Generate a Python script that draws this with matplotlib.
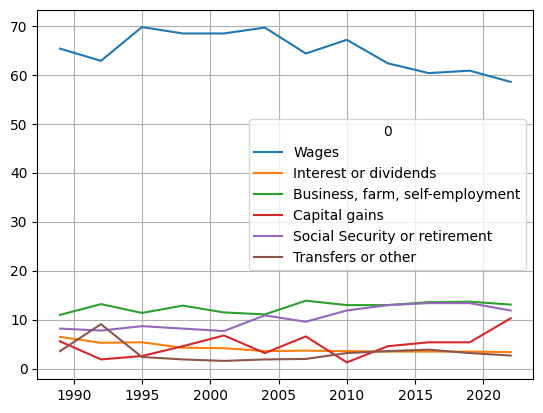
import matplotlib
matplotlib.use("Agg")
import matplotlib.pyplot as plt

years = [1989, 1992, 1995, 1998, 2001, 2004, 2007, 2010, 2013, 2016, 2019, 2022]

wages = [65.4, 62.9, 69.8, 68.5, 68.5, 69.7, 64.4, 67.2, 62.4, 60.4, 60.9, 58.6]
interest = [6.5, 5.3, 5.4, 4.3, 4.2, 3.6, 3.7, 3.6, 3.5, 3.5, 3.5, 3.4]
business = [11.0, 13.2, 11.4, 12.9, 11.5, 11.1, 13.9, 13.0, 13.0, 13.6, 13.7, 13.1]
capital = [5.6, 1.9, 2.6, 4.6, 6.8, 3.2, 6.6, 1.3, 4.6, 5.4, 5.4, 10.3]
social = [8.2, 7.8, 8.7, 8.2, 7.7, 10.9, 9.6, 11.9, 13.0, 13.4, 13.4, 11.9]
transfers = [3.6, 9.1, 2.4, 1.9, 1.6, 1.9, 2.0, 3.2, 3.6, 3.9, 3.2, 2.7]

series = {
    "Wages": wages,
    "Interest or dividends": interest,
    "Business, farm, self-employment": business,
    "Capital gains": capital,
    "Social Security or retirement": social,
    "Transfers or other": transfers,
}

fig, ax = plt.subplots(figsize=(5.43, 4.13), dpi=100)
fig.subplots_adjust(left=0.069, right=0.982, top=0.975, bottom=0.082)

for name, values in series.items():
    ax.plot(years, values, label=name)

ax.grid(True)
ax.legend(title="0", loc="center right")

plt.savefig("out.png", dpi=100)
